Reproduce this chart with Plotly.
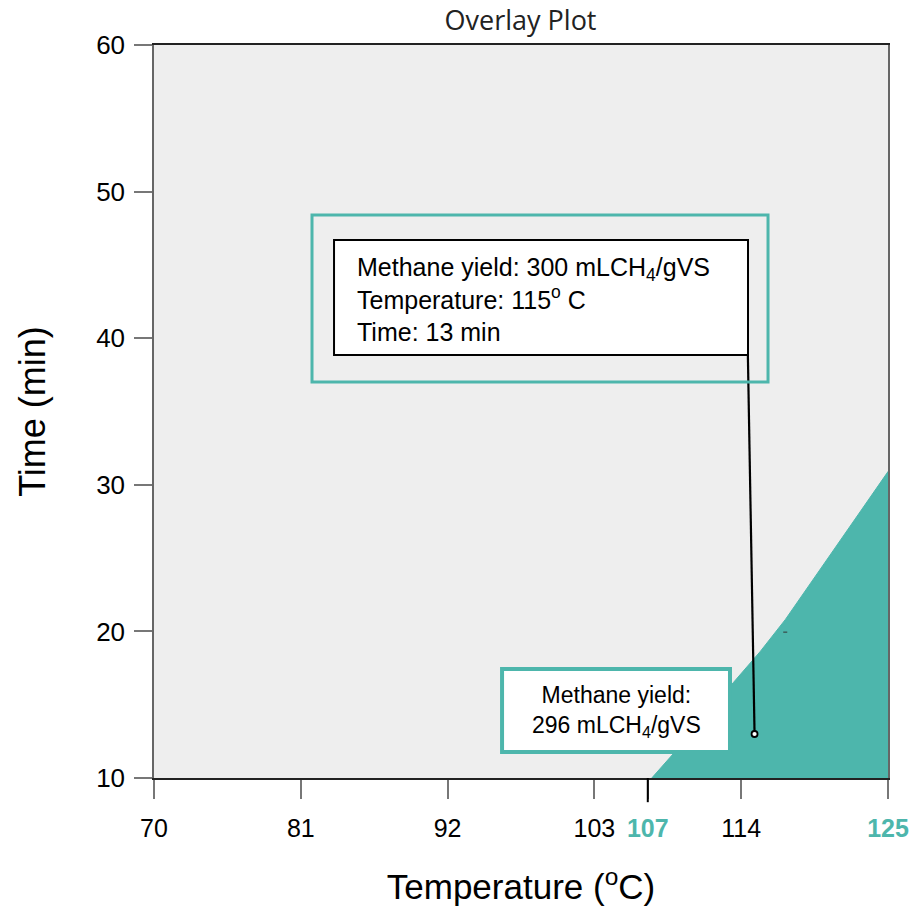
import plotly.graph_objects as go

# ---- data ----
x_ticks = [70, 81, 92, 103, 107, 114, 125]
y_ticks = [10, 20, 30, 40, 50, 60]
region_x = [107.3, 110.9, 113.4, 115.4, 117.3, 118.85, 120.4, 122.7, 125.0, 125.0]
region_y = [10.0, 13.7, 16.5, 18.6, 20.8, 22.85, 24.9, 27.9, 30.9, 10.0]
opt_temp = [115]
opt_time = [13]
leader_x = [114.5, 115]
leader_y = [38.85, 13]

TEAL = "#4db6ac"
FONT = "Liberation Sans, Arial, sans-serif"

fig = go.Figure()

fig.add_trace(go.Scatter(
    x=region_x, y=region_y, mode="lines", fill="toself",
    fillcolor=TEAL, line=dict(color=TEAL, width=1), hoverinfo="skip", showlegend=False))

fig.add_trace(go.Scatter(
    x=leader_x, y=leader_y, mode="lines",
    line=dict(color="black", width=2.2), hoverinfo="skip", showlegend=False))

fig.add_trace(go.Scatter(
    x=opt_temp, y=opt_time, mode="markers",
    marker=dict(size=6, color="white", line=dict(color="black", width=1.8)),
    hoverinfo="skip", showlegend=False))

ticktext = []
for t in x_ticks:
    if t in (107, 125):
        ticktext.append(f"<b><span style='color:{TEAL}'>{t}</span></b>")
    else:
        ticktext.append(str(t))

# boxes (data coordinates)
fig.add_shape(type="rect", x0=81.84, x1=116.01, y0=37.01, y1=48.40,
              line=dict(color=TEAL, width=3), fillcolor="rgba(0,0,0,0)", layer="above")
fig.add_shape(type="rect", x0=83.49, x1=114.51, y0=38.85, y1=46.70,
              line=dict(color="black", width=2), fillcolor="white", layer="above")
fig.add_shape(type="rect", x0=96.08, x1=113.16, y0=11.77, y1=17.44,
              line=dict(color=TEAL, width=4), fillcolor="white", layer="above")
# emphasized tick at 107
fig.add_shape(type="line", xref="x", yref="paper", x0=107, x1=107, y0=0, y1=-0.033,
              line=dict(color="black", width=2))
# tiny dash artifact
fig.add_shape(type="line", x0=117.15, x1=117.45, y0=19.95, y1=19.95,
              line=dict(color="#333", width=1))

fig.add_annotation(
    x=85.06, y=42.65, xref="x", yref="y", xanchor="left", yanchor="middle",
    align="left", showarrow=False,
    text="Methane yield: 300 mLCH<sub>4</sub>/gVS<br>Temperature: 115<sup>o</sup> C<br>Time: 13 min",
    font=dict(family=FONT, size=25, color="black"))

fig.add_annotation(
    x=104.62, y=14.55, xref="x", yref="y", xanchor="center", yanchor="middle",
    align="center", showarrow=False,
    text="Methane yield:<br>296 mLCH<sub>4</sub>/gVS",
    font=dict(family=FONT, size=23, color="black"))

fig.update_layout(
    width=914, height=914,
    margin=dict(l=154, r=26, t=45, b=136, autoexpand=False),
    paper_bgcolor="white", plot_bgcolor="#eeeeee",
    showlegend=False,
    title=dict(text="Overlay Plot", x=0.5695, xanchor="center", y=0.977, yanchor="middle",
               font=dict(family="Open Sans, sans-serif", size=27, color="#222")),
    font=dict(family=FONT, color="black"),
)

fig.update_xaxes(
    range=[70, 125], tickmode="array", tickvals=x_ticks, ticktext=ticktext,
    showgrid=False, zeroline=False, automargin=False,
    showline=True, linecolor="#222", linewidth=1.5, mirror=True,
    ticks="outside", ticklen=19, tickcolor="#777", tickwidth=1.5,
    tickfont=dict(family=FONT, size=25, color="black"),
    ticklabelstandoff=8,
    title=dict(text="Temperature (<sup>o</sup>C)", font=dict(family=FONT, size=35, color="black"),
               standoff=34),
)
fig.update_yaxes(
    range=[10, 60], tickmode="array", tickvals=y_ticks,
    showgrid=False, zeroline=False, automargin=False,
    showline=True, linecolor="#666", linewidth=1.5, mirror=True,
    ticks="outside", ticklen=18, tickcolor="#777", tickwidth=1.5,
    tickfont=dict(family=FONT, size=26, color="black"),
    ticklabelstandoff=4,
    title=dict(text="Time (min)", font=dict(family=FONT, size=36, color="black"),
               standoff=40),
)

fig.write_html("out.html")
